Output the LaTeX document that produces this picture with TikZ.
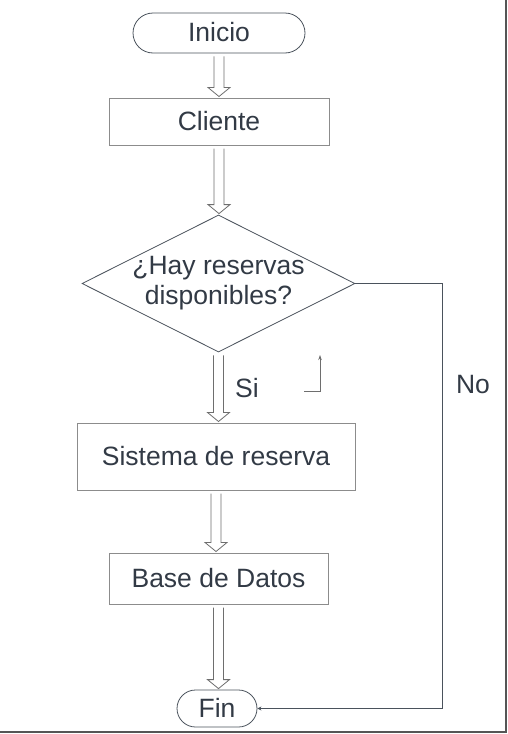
\documentclass[tikz,border=0pt]{standalone}
\usepackage{fontspec}
\setmainfont{Liberation Sans}
\usetikzlibrary{shapes.geometric,calc,arrows.meta}
\definecolor{txt}{HTML}{323A45}
\definecolor{boxc}{HTML}{8C8C8C}
\definecolor{darkc}{HTML}{4A525C}
\definecolor{arrc}{HTML}{6E6E6E}
\definecolor{framec}{HTML}{555555}
\tikzset{
  lbl/.style={text=txt,font=\fontsize{26.5}{29.5}\selectfont},
  terminal/.style={lbl,draw=darkc,line width=0.8pt,rounded corners=#1,inner sep=0pt},
  procbox/.style={lbl,draw=boxc,line width=1pt,inner sep=0pt},
  decision/.style={diamond,draw=darkc,line width=0.8pt,inner sep=0pt},
  hollow/.style={draw=arrc,line width=0.8pt,fill=white},
  noline/.style={draw=darkc,line width=1pt},
}
\newcommand\hollowarrow[2]{%
  \draw[hollow] let \p1=(#1.south), \p2=(#2.north) in
  (\x1-5pt,\y1-3pt) -- (\x1-5pt,\y2+10pt) -- (\x1-11pt,\y2+10pt) -- (\x1,\y2+1pt)
  -- (\x1+11pt,\y2+10pt) -- (\x1+5pt,\y2+10pt) -- (\x1+5pt,\y1-3pt);}
\begin{document}
\begin{tikzpicture}[x=1pt,y=-1pt]
\useasboundingbox (0,0) rectangle (507,734);
\node[terminal=20pt,minimum width=172pt,minimum height=40pt] (ini) at (219,33) {\raisebox{2pt}{Inicio}};
\node[procbox,minimum width=220pt,minimum height=47pt] (cli) at (219,121.5) {\raisebox{1.5pt}{Cliente}};
\node[decision,minimum width=273pt,minimum height=137pt] (dec) at (218.5,283.5) {};
\node[lbl,align=center,inner sep=0pt] (dectext) at (218.5,283) {¿Hay reservas\\disponibles?};
\node[procbox,minimum width=278pt,minimum height=67pt] (sis) at (216,456.5) {\raisebox{1.5pt}{Sistema de reserva}};
\node[procbox,minimum width=219pt,minimum height=51pt] (bd) at (218.5,578.5) {\raisebox{1.5pt}{Base de Datos}};
\node[terminal=18.5pt,minimum width=80pt,minimum height=37pt] (fin) at (217,708.5) {\raisebox{1.5pt}{Fin}};
\node[lbl,inner sep=0pt] (si) at (247,388) {Si};
\node[lbl,inner sep=0pt] (no) at (473,385) {No};

\hollowarrow{ini}{cli}
\hollowarrow{cli}{dec}
\hollowarrow{dec}{sis}
\hollowarrow{sis}{bd}
\hollowarrow{bd}{fin}

\coordinate (nocorner) at (442,283.5);
\draw[noline,-{Stealth[length=4pt,width=4pt]}] (dec.east) -- (nocorner) |- (fin.east);

\coordinate (la) at (304,391);
\coordinate (lb) at (320,391);
\coordinate (lc) at (320,355);
\draw[draw=arrc,line width=0.8pt,-{Stealth[length=5pt,width=3.5pt]}] (la) -- (lb) -- (lc);

\coordinate (fa) at (506,0);
\coordinate (fb) at (506,732);
\coordinate (fc) at (0,732);
\draw[draw=framec,line width=2.2pt] (fa) -- (fb) -- (fc);
\end{tikzpicture}
\end{document}
